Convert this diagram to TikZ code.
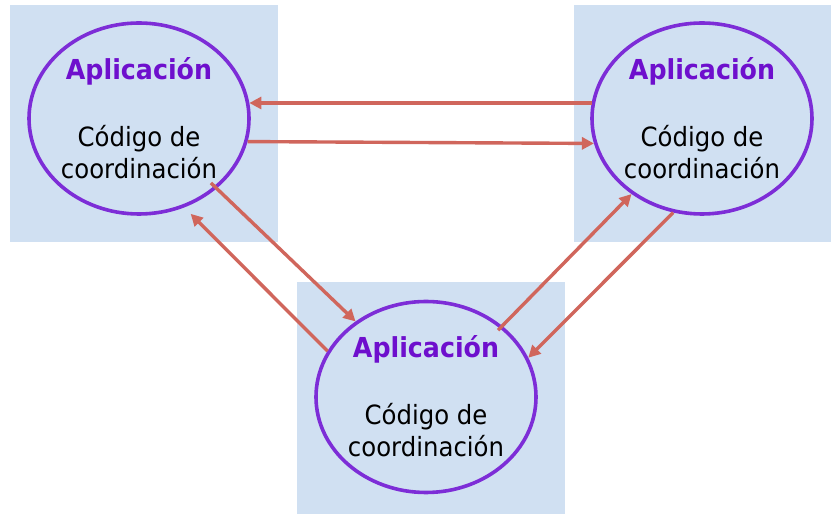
\documentclass[tikz,border=0pt]{standalone}
\usepackage{fontspec}
\setmainfont{DejaVu Sans}[FakeStretch=0.92]
\usetikzlibrary{arrows.meta,shapes.geometric}
\definecolor{boxfill}{RGB}{208,224,242}
\definecolor{ellline}{RGB}{125,45,215}
\definecolor{apptext}{RGB}{110,15,205}
\definecolor{arrowcol}{RGB}{208,102,92}
\tikzset{
  panel/.style={fill=boxfill, draw=none},
  proc/.style={ellipse, draw=ellline, line width=3.6pt, minimum width=220pt, minimum height=191pt, inner sep=0pt},
  apptitle/.style={anchor=base, text=apptext, font=\fontsize{27.5}{32}\selectfont\bfseries, inner sep=0pt},
  codetext/.style={anchor=base, text=black, font=\fontsize{26.5}{32}\selectfont, align=center, inner sep=0pt},
  msg/.style={draw=arrowcol, line width=3.4pt, -{Triangle[length=12pt,width=12pt]}}
}
\begin{document}
\begin{tikzpicture}[x=1pt,y=1pt]
\useasboundingbox (0,0) rectangle (831,514);
% panels (image y flipped: tikz y = 514 - y)
\fill[panel] (10,272) rectangle (278,509);
\fill[panel] (574,272) rectangle (831,509);
\fill[panel] (297,0) rectangle (565,232);
% ellipses
\node[proc] (L) at (139,395.5) {};
\node[proc] (R) at (702,395.5) {};
\node[proc] (B) at (426,117) {};
% texts
\node[apptitle] (LA) at ([yshift=39pt]L.center) {Aplicación};
\node[codetext] (LC) at ([yshift=-60pt]L.center) {Código de\\coordinación};
\node[apptitle] (RA) at ([yshift=39pt]R.center) {Aplicación};
\node[codetext] (RC) at ([yshift=-60pt]R.center) {Código de\\coordinación};
\node[apptitle] (BA) at ([yshift=39pt]B.center) {Aplicación};
\node[codetext] (BC) at ([yshift=-60pt]B.center) {Código de\\coordinación};
% connectors
\draw[msg] (R.172) -- (L.8);
\draw[msg] (L.-12.4) -- (R.-167);
\draw[msg, shorten <=-8pt] (L.-42.5) -- (B.133);
\draw[msg, shorten >=9pt] (B.155) -- (L.-63);
\draw[msg, shorten <=-6pt] (B.43) -- (R.-133);
\draw[msg] (R.-107) -- (B.21);
\end{tikzpicture}
\end{document}
